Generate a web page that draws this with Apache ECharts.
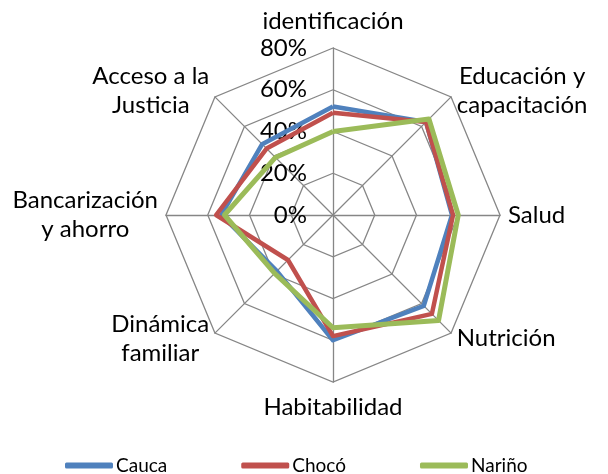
<!DOCTYPE html>
<html><head><meta charset="utf-8">
<script src="https://cdn.jsdelivr.net/npm/echarts@6/dist/echarts.min.js"></script>
<style>html,body{margin:0;padding:0;background:#fff}#c{width:608px;height:474px}</style>
</head><body><div id="c"></div>
<script>
// Data (clockwise from top, as in the reference)
const categories = ['identificación','Educación y\ncapacitación','Salud','Nutrición','Habitabilidad','Dinámica\nfamiliar','Bancarización\ny ahorro','Acceso a la\nJusticia'];
const cauca  = [52, 63, 57, 61.5, 60, 38, 53.5, 48];
const choco  = [49, 63, 57.5, 67, 58, 30.5, 56, 45];
const narino = [40, 65, 60, 71.5, 54, 39.5, 52, 39];
const seriesNames = ['Cauca','Chocó','Nariño'];
const colors = ['#4F81BD','#C0504D','#9BBB59'];
const axisMax = 80;

// ECharts lays radar indicators counter-clockwise; reorder to get clockwise layout
const order = [0,7,6,5,4,3,2,1];
const reorder = arr => order.map(i => arr[i]);
const FONT = 'Lato';

const indicator = reorder(categories).map((name, k) => {
  const o = { name: name, min: 0, max: axisMax };
  if (k === 0) {
    o.axisLabel = { show: true, fontSize: 24, fontFamily: FONT, color: '#000', margin: 26, formatter: '{value}%' };
  }
  if (name === 'Habitabilidad') o.nameGap = 11;
  return o;
});

const chart = echarts.init(document.getElementById('c'));
chart.setOption({
  animation: false,
  legend: {
    left: 60, top: 451,
    itemWidth: 48, itemHeight: 6, itemGap: 74,
    icon: 'roundRect',
    textStyle: { fontFamily: FONT, fontSize: 19, color: '#000', padding: [0,0,0,-2] },
    data: seriesNames
  },
  radar: {
    center: [333, 215],
    radius: 167,
    shape: 'polygon',
    splitNumber: 4,
    startAngle: 90,
    nameGap: 8,
    axisName: {
      color: '#000', fontFamily: FONT, fontSize: 24, lineHeight: 29,
      formatter: v => v.split('\n').map(s => '{c|' + s + '}').join('\n'),
      rich: { c: { align: 'center', color: '#000', fontFamily: FONT, fontSize: 24, lineHeight: 29 } }
    },
    axisLine: { lineStyle: { color: '#868686', width: 1.3 } },
    splitLine: { lineStyle: { color: '#868686', width: 1.3 } },
    splitArea: { show: false },
    axisTick: { show: false },
    axisLabel: { show: false },
    indicator: indicator
  },
  series: [{
    type: 'radar',
    symbol: 'none',
    data: [
      { name: seriesNames[0], value: reorder(cauca),  lineStyle: { color: colors[0], width: 4.5 }, itemStyle: { color: colors[0] } },
      { name: seriesNames[1], value: reorder(choco),  lineStyle: { color: colors[1], width: 4.5 }, itemStyle: { color: colors[1] } },
      { name: seriesNames[2], value: reorder(narino), lineStyle: { color: colors[2], width: 5 }, itemStyle: { color: colors[2] } }
    ]
  }]
});
</script></body></html>
